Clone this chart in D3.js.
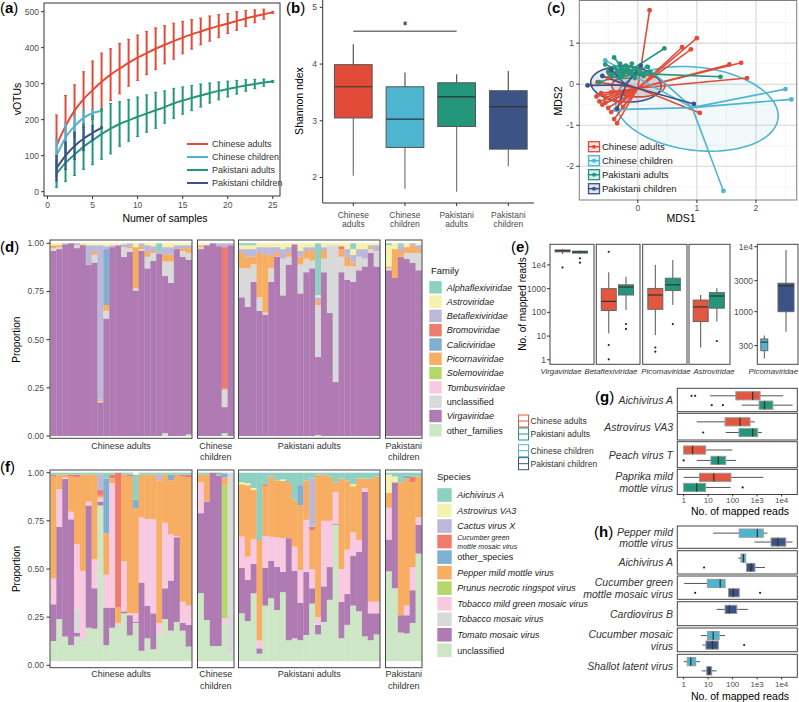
<!DOCTYPE html>
<html><head><meta charset="utf-8">
<script src="https://cdn.jsdelivr.net/npm/d3@7"></script>
<style>body{margin:0;background:#fff}svg{font-family:"Liberation Sans",Arial,Helvetica,sans-serif}</style>
</head><body>
<svg id="fig" width="799" height="702"></svg>
<script>
// ================= DATA =================
const groups = ["Chinese adults","Chinese children","Pakistani adults","Pakistani children"];
const groupColors = ["#E24B37","#4EB5D0","#23967B","#3B5385"];

// (a) rarefaction: mean and sd of vOTUs per number of samples
const aMeanCA = [128,182,225,257,282,305,325,342,358,372,385,397,408,418,428,437,445,453,460,467,474,481,487,493,498];
const aSdCA   = [85,85,72,76,81,80,72,70,65,63,60,58,53,50,45,41,37,35,32,28,26,22,18,14,3];
const aMeanCC = [100,150,182,205,218,225];
const aSdCC   = [45,40,30,20,10,2];
const aMeanPA = [50,80,103,125,143,160,175,188,198,208,217,226,235,245,253,260,267,274,280,285,290,295,299,303,306];
const aSdPA   = [38,52,58,63,68,70,70,62,58,55,52,50,45,42,38,35,32,28,25,22,19,16,13,10,3];
const aMeanPC = [65,100,127,147,163,178];
const aSdPC   = [35,38,38,32,20,2];
const aXTicks = [0,5,10,15,20,25];
const aYTicks = [0,100,200,300,400,500];

// (b) Shannon index boxplots
const bQ1  = [3.05,2.53,2.90,2.50];
const bMed = [3.60,3.03,3.42,3.25];
const bQ3  = [3.99,3.60,3.67,3.53];
const bLo  = [2.03,1.80,1.75,2.20];
const bHi  = [4.35,3.85,3.82,3.88];
const bYTicks = [2,3,4,5];
const bSig = {from:0, to:2, y:4.58, label:"*"};

// (c) MDS
const cPtsCA = [[0.2,1.8],[1.0,1.12],[0.75,0.9],[0.9,0.85],[1.75,0.52],[1.55,0.48],[1.85,0.15],[1.05,-0.7],
  [-0.7,-0.3],[-0.65,-0.42],[-0.6,-0.5],[-0.55,-0.45],[-0.5,-0.58],[-0.45,-0.68],[-0.4,-0.85],[-0.35,-0.95],
  [-0.55,-0.32],[-0.62,-0.22],[-0.4,-0.38],[-0.3,-0.45],[-0.25,-0.55],[-0.5,0.15],[-0.68,0.05],[-0.45,-0.2]];
const cPtsCC = [[-0.55,0.58],[2.5,-0.12],[2.6,-0.37],[1.45,-2.6],[-0.38,-0.62],[0.15,0.42]];
const cPtsPA = [[-0.4,0.65],[0.45,0.87],[1.4,0.18],[-0.3,0.5],[-0.2,0.45],[-0.1,0.5],[0.0,0.38],[0.17,0.42],
  [-0.5,0.3],[-0.65,0.05],[-0.35,0.3],[-0.25,0.22],[-0.15,0.32],[0.05,0.28],[-0.3,0.15],[-0.45,0.22],
  [0.1,0.2],[-0.2,0.35],[-0.4,0.4],[-0.55,0.48],[-0.1,0.25],[0.2,0.3],[-0.28,0.38],[-0.05,0.15]];
const cPtsPC = [[-0.85,-0.03],[0.95,-0.48],[-0.35,-0.6],[0.05,0.45],[-0.45,0.35],[-0.6,0.2]];
const cCentroids = [[0.0,-0.1],[0.92,-0.57],[-0.2,0.27],[-0.2,-0.02]];
// ellipse: cx, cy, semi-axis a, semi-axis b, rotation (deg)
const cEllipses = [[0.01,-0.04,0.45,0.27,0],[1.0,-0.6,1.4,1.0,-15],[-0.25,0.3,0.27,0.16,0],[-0.2,0.0,0.6,0.43,-8]];
const cXTicks = [0,1,2];
const cYTicks = [-2,-1,0,1];

// (d) family composition; each bar = list of [family code, cumulative top], bottom to top
const families = ["Alphaflexiviridae","Astroviridae","Betaflexiviridae","Bromoviridae","Caliciviridae","Picornaviridae","Solemoviridae","Tombusviridae","unclassified","Virgaviridae","other_families"];
const familyCodes = ["Al","As","Be","B","C","P","S","T","U","V","O"];
const paletteSet = ["#8ED1C2","#F5F1AE","#BDB8D9","#EF7B6C","#7FAFD1","#F7AE63","#B5D76B","#F8C9E0","#D9D9D9","#B07BB3","#CCE6C6"];
const dCA = [
 [["V",.96],["U",.975],["P",.99],["As",1]],[["V",.97],["U",.98],["P",.99],["As",1]],[["V",.995],["Be",1]],[["V",1]],
 [["V",.975],["U",.99],["Be",1]],[["V",.99],["P",.995],["As",1]],[["V",.89],["Be",.99],["As",1]],
 [["V",.90],["U",.94],["P",.955],["Be",.99],["As",1]],[["V",.175],["U",.18],["P",.19],["Be",.99],["As",1]],
 [["V",.61],["U",.65],["P",.68],["C",.97],["Be",.985],["As",1]],[["V",.98],["Be",.99],["As",1]],[["V",.99],["As",1]],
 [["V",.93],["U",.98],["Be",.995],["As",1]],[["V",.955],["U",.975],["P",.985],["Be",1]],[["V",.755],["U",.765],["P",.98],["As",1]],
 [["V",.96],["U",.97],["P",.985],["Be",1]],[["V",.87],["U",.93],["P",.955],["Be",.99],["As",1]],
 [["V",.91],["U",.95],["P",.96],["Be",.985],["As",1]],[["V",.945],["Be",.955],["Al",1]],
 [["O",.015],["V",.83],["U",.905],["P",.94],["Be",.98],["As",1]],[["V",.795],["U",.905],["P",.94],["Be",.98],["As",1]],
 [["V",.97],["Be",.99],["As",1]],[["V",.93],["U",.96],["P",.975],["Be",.99],["As",1]],[["O",.008],["V",.915],["U",.95],["P",.975],["Be",.99],["As",1]]
];
const dCC = [
 [["V",.97],["U",.98],["P",.99],["As",1]],[["V",.99],["As",1]],[["V",1]],[["V",.985],["Be",1]],
 [["O",.015],["V",.15],["U",.24],["P",.245],["B",.98],["Be",1]],[["V",.99],["Be",1]]
];
const dPA = [
 [["V",.72],["U",.87],["P",.95],["Be",.97],["As",.99],["Al",1]],[["V",.67],["U",.87],["P",.93],["Be",.97],["As",.99],["Al",1]],
 [["V",.80],["U",.89],["P",.93],["Be",.97],["As",.99],["Al",1]],[["V",.65],["U",.72],["P",.95],["Be",.98],["As",1]],
 [["V",.63],["U",.64],["P",.94],["Be",.98],["As",1]],[["V",.80],["U",.87],["P",.94],["Be",.98],["As",1]],
 [["V",.93],["P",.95],["Be",.98],["As",1]],[["V",.73],["U",.92],["Be",.97],["As",1]],
 [["V",.89],["U",.93],["P",.95],["Be",.98],["As",1]],[["V",.995],["As",1]],
 [["V",.74],["U",.89],["P",.93],["Be",.96],["As",1]],[["V",.85],["U",.92],["P",.96],["Be",.98],["As",1]],
 [["V",.87],["U",.91],["P",.96],["Be",.98],["As",1]],[["O",.005],["V",.41],["U",.68],["P",.70],["Be",.72],["As",.73],["Al",1]],
 [["V",.85],["U",.92],["P",.96],["Be",.98],["As",1]],[["V",.64],["U",.99],["As",1]],[["V",.28],["U",.99],["As",1]],
 [["V",.85],["U",.93],["P",.97],["B",.985],["As",1]],[["V",.81],["U",.88],["P",.93],["Be",.97],["As",1]],
 [["V",.80],["U",.88],["P",.90],["Be",.94],["As",.97],["Al",1]],[["V",.86],["U",.93],["Be",.97],["As",1]],
 [["V",.88],["U",.92],["Be",.97],["As",1]],[["V",.95],["U",.97],["P",.98],["Be",.99],["As",1]],[["V",.88],["U",.96],["Be",.99],["As",1]]
];
const dPC = [
 [["V",.86],["U",.87],["P",.88],["As",.99],["Al",1]],[["V",.82],["P",.97],["As",1]],[["V",.93],["P",.96],["Be",.99],["Al",1]],
 [["V",.92],["U",.95],["P",.98],["As",1]],[["V",.90],["U",.95],["P",.99],["Be",1]],[["V",.86],["U",.95],["P",.97],["Be",.99],["As",1]]
];
const propTicks = [0,0.25,0.5,0.75,1];

// (f) species composition (bars start at fBase)
const species = ["Aichivirus A","Astrovirus VA3","Cactus virus X","Cucumber green mottle mosaic virus","other_species","Pepper mild mottle virus","Prunus necrotic ringspot virus","Tobacco mild green mosaic virus","Tobacco mosaic virus","Tomato mosaic virus","unclassified"];
const speciesCodes = ["Ai","Av","Cx","Cg","Ot","Pe","Pr","TMG","TbM","ToM","Un"];
const fBase = 0.022;
const fCA = [
 [["Un",.126],["ToM",.317],["TMG",.45],["Pe",.98],["Cg",.99],["Ai",1]],[["Un",.24],["ToM",.72],["TMG",.915],["Pe",.99],["Ai",1]],
 [["Un",.149],["ToM",.967],["TMG",.975],["Pe",.99],["Ai",1]],[["Un",.105],["ToM",.758],["TMG",.797],["Pe",.98],["Cg",.99],["Ai",1]],
 [["Un",.15],["ToM",.17],["TbM",.29],["TMG",.63],["Pe",.975],["Cg",.99],["Ai",1]],[["Un",.12],["TbM",.14],["TMG",.49],["Pe",.99],["Ai",1]],
 [["Un",.195],["ToM",.83],["TMG",.85],["Pe",.99],["Ai",1]],[["Un",.19],["ToM",.40],["TMG",.55],["Pe",.99],["Ai",1]],
 [["Un",.83],["ToM",.85],["TMG",.87],["Pe",.88],["Cg",.91],["Cx",.99],["Ai",1]],[["Un",.105],["ToM",.30],["TMG",.47],["Pe",.685],["Ot",.97],["Ai",1]],
 [["Un",.195],["ToM",.30],["TMG",.945],["Pe",.97],["Cg",.99],["Ai",1]],[["Un",.21],["TMG",.22],["Pe",.30],["Cg",1]],
 [["Un",.27],["ToM",.28],["TMG",.54],["Pe",.99],["Ai",1]],[["Un",.155],["ToM",.26],["TMG",.27],["Pe",.98],["Cg",.99],["Ai",1]],
 [["Un",.22],["ToM",.227],["TMG",.27],["Pe",.815],["Ot",.86],["Ai",.99]],[["Un",.075],["ToM",.43],["TMG",.767],["Pe",.99],["Ai",1]],
 [["Un",.14],["ToM",.31],["TMG",.76],["Pe",.99],["Ai",1]],[["Un",.083],["ToM",.27],["TMG",.758],["Pe",.99],["Ai",1]],
 [["Un",.17],["TMG",.22],["Pe",.96],["Cx",.99],["Ai",1]],[["Un",.24],["ToM",.40],["TbM",.41],["TMG",.74],["Pe",.99],["Ai",1]],
 [["Un",.18],["ToM",.44],["TMG",.68],["Pe",.96],["Ot",.99],["Ai",1]],[["Un",.225],["ToM",.665],["TMG",.67],["Pe",.99],["Ai",1]],
 [["Un",.18],["ToM",.22],["TMG",.33],["Pe",.98],["Cg",.99],["Ai",1]],[["Un",.097],["ToM",.21],["TMG",.31],["Pe",.975],["Cg",.99],["Ai",1]]
];
const fCC = [
 [["Un",.375],["ToM",.79],["TMG",.95],["Pe",.99],["Ai",1]],[["Un",.235],["ToM",.85],["Pe",.99],["Ai",1]],[["Un",.10],["ToM",1]],
 [["Un",.10],["ToM",.985],["Pe",.99],["Ot",1]],[["Un",.22],["TMG",.245],["Pr",.935],["Pe",.975],["Ot",.995],["Ai",1]],[["Un",.057],["TbM",1]]
];
const fPA = [
 [["Un",.27],["ToM",.507],["TMG",.668],["Pe",.94],["Av",.95],["Ai",1]],[["Un",.23],["ToM",.443],["TMG",.564],["Pe",.935],["Av",.945],["Ai",1]],
 [["Un",.374],["ToM",.526],["TMG",.654],["Pe",.91],["Av",.92],["Ai",1]],[["Un",.06],["ToM",.088],["TMG",.128],["Pe",.65],["Ot",.655],["Ai",1]],
 [["Un",.31],["ToM",.507],["TMG",.67],["Pe",.93],["Cg",.94],["Ai",1]],[["Un",.348],["ToM",.543],["TMG",.668],["Pe",.98],["Ai",1]],
 [["Un",.287],["ToM",.512],["TMG",.664],["Pe",.96],["Ai",1]],[["Un",.38],["ToM",.486],["TMG",.66],["Pe",.957],["Av",.965],["Ai",1]],
 [["Un",.13],["ToM",.66],["Pe",.945],["Cg",.95],["Ai",1]],[["Un",.14],["ToM",.49],["TMG",.616],["Pe",.86],["Ai",1]],
 [["Un",.13],["ToM",.325],["TMG",.495],["Pe",.83],["Ot",.935],["Ai",1]],[["Un",.157],["ToM",.486],["TMG",.755],["Pe",.96],["Ai",1]],
 [["Un",.32],["ToM",.40],["TMG",.50],["Pe",.70],["Cg",.72],["Cx",.97],["Ai",1]],[["Un",.16],["ToM",.21],["TMG",.25],["Pe",.99],["Ai",1]],
 [["Un",.225],["ToM",.41],["TMG",.75],["Pe",.99],["Ai",1]],[["Un",.34],["ToM",.51],["TMG",.75],["Pe",.98],["Ai",1]],
 [["Un",.73],["ToM",.735],["TMG",.90],["Pe",.95],["Ai",1]],[["Un",.14],["ToM",.33],["TMG",.50],["Pe",.97],["Ai",1]],
 [["Un",.21],["ToM",.37],["TMG",.60],["Pe",.96],["Ai",1]],[["Un",.31],["ToM",.57],["TMG",.69],["Pe",.93],["Av",.94],["Ai",1]],
 [["Un",.28],["ToM",.59],["TMG",.65],["Pe",.97],["Ai",1]],[["Un",.15],["ToM",.90],["TMG",.92],["Pe",.97],["Ai",1]],
 [["Un",.13],["ToM",.27],["TMG",.33],["Pe",.97],["Ai",1]],[["Un",.16],["ToM",.27],["TMG",.33],["Pe",.98],["Ai",1]]
];
const fPC = [
 [["Un",.488],["ToM",.653],["TMG",.818],["Pe",.896],["Av",.99],["Ai",1]],[["Un",.40],["ToM",.95],["Av",.98],["Ai",1]],
 [["Un",.17],["ToM",.26],["Pe",.95],["Ai",1]],[["Un",.165],["ToM",.26],["TMG",.31],["Pe",.97],["Ot",.985],["Ai",1]],
 [["Un",.22],["ToM",.39],["TMG",.51],["Pe",.95],["Cg",.98],["Ai",1]],[["Un",.58],["ToM",.73],["TMG",.77],["Pe",.98],["Ai",1]]
];
const facetNames = [["Chinese adults"],["Chinese","children"],["Pakistani adults"],["Pakistani","children"]];

// (e) mapped reads by family: [q1, median, q3, lower whisker, upper whisker, outliers]
const eFamilies = ["Virgaviridae","Betaflexiviridae","Picornaviridae","Astroviridae"];
const eAdultsCA = [[35500,40000,42700,28500,45700,[7800]],[120,290,1000,13,4900,[4.2,1.05,36000]],[135,540,1020,11,10000,[3.3,2.2]],[41,170,330,3.3,540,[]]];
const eAdultsPA = [[31600,35500,38000,30000,40000,[19000,12500]],[540,1170,1450,126,3200,[32,20]],[830,1450,2750,205,16000,[32]],[150,490,680,41,1050,[6.2]]];
const eChildFamily = "Picornaviridae";
const eChildCC = [251,340,380,190,430,[]];
const eChildPC = [1000,2490,2740,490,8900,[]];
const eTicks = [1,10,100,1000,10000];
const eTickLabels = ["1","10","100","1000","1e4"];
const eChildTicks = [300,1000,3000,10000];
const eChildTickLabels = ["300","1000","3000","1e4"];
const legendOrder = ["Chinese adults","Pakistani adults","Chinese children","Pakistani children"];

// (g) adults viruses
const gViruses = [["Aichivirus A"],["Astrovirus VA3"],["Peach virus T"],["Paprika mild","mottle virus"]];
const gCA = [[135,660,1320,12,11700,[2.1,2.95]],[49,200,510,3.4,810,[]],[1,2.3,7.9,1,98,[]],[4.4,17,85,1,1780,[]]];
const gPA = [[1200,2000,4400,234,28000,[14,40]],[182,660,1050,52,1550,[6.3]],[13,26,52,3.4,138,[1]],[1,3.4,7.9,1,83,[257]]];
// (h) children viruses
const hViruses = [["Pepper mild","mottle virus"],["Aichivirus A"],["Cucumber green","mottle mosaic virus"],["Cardiovirus B"],["Cucumber mosaic","virus"],["Shallot latent virus"]];
const hCC = [[186,1020,1780,16,2630,[]],[219,275,340,170,340,[]],[9.3,31,49,1.05,49,[]],null,[9.3,16,28,5,49,[]],[1.4,1.95,3.1,1,4.7,[]]];
const hPC = [[3700,6900,14800,776,28000,[]],[370,560,810,370,2090,[6.8]],[68,107,186,68,186,[2.95,1320]],[49,74,148,22,417,[]],[8.1,15,26,5.8,26,[295]],[8.7,11,14,5.5,22,[]]];
const readTicks = [1,10,100,1000,10000];
const readTickLabels = ["1","10","100","1e3","1e4"];

// ================= DRAW =================
const svg = d3.select("#fig");
const TICKC = "#4d4d4d", AXC = "#333";
function txt(x,y,s,o={}){
  const t = svg.append("text").attr("x",x).attr("y",y).text(s)
   .attr("font-size",o.size||9).attr("fill",o.fill||"#000")
   .attr("text-anchor",o.anchor||"start");
  if(o.italic) t.attr("font-style","italic");
  if(o.rotate!==undefined) t.attr("transform",`rotate(${o.rotate},${x},${y})`);
  return t;
}
function panelLabel(x,y,l){
  const t = svg.append("text").attr("x",x).attr("y",y).attr("font-size",15);
  t.append("tspan").text("(");
  t.append("tspan").attr("font-weight","bold").text(l);
  t.append("tspan").text(")");
}
function line(x1,y1,x2,y2,c,w){ return svg.append("line").attr("x1",x1).attr("y1",y1).attr("x2",x2).attr("y2",y2).attr("stroke",c).attr("stroke-width",w||1); }

// ---------- (a) ----------
(function(){
  const x = d3.scaleLinear().domain([-0.39,25.8]).range([44,280]);
  const y = d3.scaleLinear().domain([-12,524]).range([196,3]);
  svg.append("rect").attr("x",44).attr("y",3).attr("width",236).attr("height",193).attr("fill","none").attr("stroke",AXC);
  aXTicks.forEach(t=>{ line(x(t),196,x(t),199,AXC); txt(x(t),208,t,{anchor:"middle",size:8.5,fill:TICKC}); });
  aYTicks.forEach(t=>{ line(41,y(t),44,y(t),AXC); txt(39,y(t)+3,t,{anchor:"end",size:8.5,fill:TICKC}); });
  txt(165,222,"Numer of samples",{anchor:"middle",size:10.5});
  txt(21,99,"vOTUs",{anchor:"middle",size:10.5,rotate:-90});
  const series = [[aMeanCA,aSdCA,0],[aMeanCC,aSdCC,1],[aMeanPA,aSdPA,2],[aMeanPC,aSdPC,3]];
  series.forEach(([m,s,g])=>{
    const col = groupColors[g];
    m.forEach((v,i)=>{
      const xi = x(i+1);
      line(xi,y(v-s[i]),xi,y(v+s[i]),col,2);
      line(xi-1.5,y(v-s[i]),xi+1.5,y(v-s[i]),col,1);
      line(xi-1.5,y(v+s[i]),xi+1.5,y(v+s[i]),col,1);
    });
    svg.append("path").datum(m).attr("fill","none").attr("stroke",col).attr("stroke-width",2)
      .attr("d",d3.line().x((d,i)=>x(i+1)).y(d=>y(d)).curve(d3.curveMonotoneX));
  });
  groups.forEach((g,i)=>{
    const yy = 144 + i*13;
    line(187,yy,208,yy,groupColors[i],2);
    txt(212,yy+3.2,g,{size:9,fill:"#333"});
  });
  panelLabel(0,13,"a");
})();

// ---------- (b) ----------
(function(){
  const x = d3.scalePoint().domain(groups).range([353.3,508.3]);
  const y = d3.scaleLinear().domain([1.55,5.13]).range([203,0]);
  line(322.7,0,322.7,203,AXC); line(322.7,203,534,203,AXC);
  bYTicks.forEach(t=>{ line(319.7,y(t),322.7,y(t),AXC); txt(317,y(t)+3,t,{anchor:"end",size:8.5,fill:TICKC}); });
  const bw = 37.7;
  groups.forEach((g,i)=>{
    const cx = x(g);
    line(cx,203,cx,206,AXC);
    const parts = g.split(" ");
    txt(cx,217.5,parts[0],{anchor:"middle",size:8.5,fill:TICKC});
    txt(cx,226.5,parts[1],{anchor:"middle",size:8.5,fill:TICKC});
    line(cx,y(bLo[i]),cx,y(bQ1[i]),"#777",1.2);
    line(cx,y(bQ3[i]),cx,y(bHi[i]),"#555",1.2);
    svg.append("rect").attr("x",cx-bw/2).attr("y",y(bQ3[i])).attr("width",bw).attr("height",y(bQ1[i])-y(bQ3[i]))
      .attr("fill",groupColors[i]).attr("stroke","#555").attr("stroke-width",1);
    line(cx-bw/2,y(bMed[i]),cx+bw/2,y(bMed[i]),"#333",1.2);
  });
  line(x(groups[bSig.from]),y(bSig.y),x(groups[bSig.to]),y(bSig.y),"#333",1);
  txt((x(groups[bSig.from])+x(groups[bSig.to]))/2,y(bSig.y)-1,bSig.label,{anchor:"middle",size:12});
  txt(303,101,"Shannon ndex",{anchor:"middle",size:10.5,rotate:-90});
  panelLabel(286,13,"b");
})();

// ---------- (c) ----------
(function(){
  const x = d3.scaleLinear().domain([-0.99,2.69]).range([579.3,796.7]);
  const y = d3.scaleLinear().domain([-2.82,2.05]).range([200,0]);
  const g = svg.append("g");
  [-0.5,0.5,1.5,2.5].forEach(t=>g.append("line").attr("x1",x(t)).attr("x2",x(t)).attr("y1",0).attr("y2",200).attr("stroke","#eeeeee").attr("stroke-width",0.6));
  [-2.5,-1.5,-0.5,0.5,1.5].forEach(t=>g.append("line").attr("y1",y(t)).attr("y2",y(t)).attr("x1",579.3).attr("x2",796.7).attr("stroke","#eeeeee").attr("stroke-width",0.6));
  cXTicks.forEach(t=>g.append("line").attr("x1",x(t)).attr("x2",x(t)).attr("y1",0).attr("y2",200).attr("stroke","#d6d6d6").attr("stroke-width",1.1));
  cYTicks.forEach(t=>g.append("line").attr("y1",y(t)).attr("y2",y(t)).attr("x1",579.3).attr("x2",796.7).attr("stroke","#d6d6d6").attr("stroke-width",1.1));
  const pts = [cPtsCA,cPtsCC,cPtsPA,cPtsPC];
  const order = [1,0,3,2];
  order.forEach(i=>{
    const [cx,cy,a,b,rot] = cEllipses[i];
    const th = rot*Math.PI/180;
    const ps = d3.range(0,361,4).map(d=>{
      const t = d*Math.PI/180;
      const ex = a*Math.cos(t), ey = b*Math.sin(t);
      return [cx+ex*Math.cos(th)-ey*Math.sin(th), cy+ex*Math.sin(th)+ey*Math.cos(th)];
    });
    svg.append("path").datum(ps).attr("d",d3.line().x(d=>x(d[0])).y(d=>y(d[1])))
      .attr("fill",groupColors[i]).attr("fill-opacity",i===1?0.08:0.12).attr("stroke",groupColors[i]).attr("stroke-width",1.6);
  });
  [0,1,2,3].forEach(i=>{
    const c = cCentroids[i];
    pts[i].forEach(p=>line(x(c[0]),y(c[1]),x(p[0]),y(p[1]),groupColors[i],1.6));
  });
  [0,1,2,3].forEach(i=>{
    svg.selectAll(null).data(pts[i]).enter().append("circle")
      .attr("cx",d=>x(d[0])).attr("cy",d=>y(d[1])).attr("r",2.4).attr("fill",groupColors[i]);
  });
  svg.append("rect").attr("x",579.3).attr("y",0.5).attr("width",217.4).attr("height",199.5).attr("fill","none").attr("stroke","#7f7f7f");
  cXTicks.forEach(t=>{ line(x(t),200,x(t),203,AXC); txt(x(t),211,t,{anchor:"middle",size:8.5,fill:TICKC}); });
  cYTicks.forEach(t=>{ line(576.3,y(t),579.3,y(t),AXC); txt(574,y(t)+3,t,{anchor:"end",size:8.5,fill:TICKC}); });
  txt(681,222,"MDS1",{anchor:"middle",size:10.5});
  txt(562,101,"MDS2",{anchor:"middle",size:10.5,rotate:-90});
  groups.forEach((gname,i)=>{
    const yy = 146.7 + i*14;
    svg.append("rect").attr("x",588.5).attr("y",yy-5).attr("width",11).attr("height",10).attr("fill",groupColors[i]).attr("fill-opacity",0.15).attr("stroke",groupColors[i]).attr("stroke-width",1.3);
    line(588.5,yy,599.5,yy,groupColors[i],1.5);
    svg.append("circle").attr("cx",594).attr("cy",yy).attr("r",2).attr("fill",groupColors[i]);
    txt(602,yy+3.3,gname,{size:9.5,fill:"#222"});
  });
  panelLabel(547,13,"c");
})();

// ---------- (d) & (f) stacked bars ----------
const facetX = [[50,192],[197.5,234],[238.5,380],[385.5,422]];
function stackPanel(datasets, codes, colors, yTop, yBot, frameTop, frameBot, base, labelY){
  const y = d3.scaleLinear().domain([0,1]).range([yBot,yTop]);
  const colorOf = d3.scaleOrdinal().domain(codes).range(colors);
  datasets.forEach((bars,fi)=>{
    const [x0,x1] = facetX[fi];
    const xb = d3.scaleBand().domain(d3.range(bars.length)).range([x0,x1]).paddingOuter(0.08).paddingInner(0);
    bars.forEach((segs,bi)=>{
      let prev = base;
      segs.forEach(([code,top])=>{
        svg.append("rect").attr("x",xb(bi)).attr("width",xb.bandwidth()+0.3)
          .attr("y",y(top)).attr("height",Math.max(0,y(prev)-y(top))).attr("fill",colorOf(code));
        prev = top;
      });
    });
    svg.append("rect").attr("x",x0).attr("y",frameTop).attr("width",x1-x0).attr("height",frameBot-frameTop)
      .attr("fill","none").attr("stroke","#444").attr("stroke-width",1);
    const nm = facetNames[fi];
    nm.forEach((s,k)=>txt((x0+x1)/2,labelY+k*11.5,s,{anchor:"middle",size:9,fill:"#333"}));
  });
  propTicks.forEach(t=>{ line(46.5,y(t),50,y(t),AXC); txt(44,y(t)+3,d3.format(".2f")(t),{anchor:"end",size:8.5,fill:TICKC}); });
  txt(20,(yTop+yBot)/2,"Proportion",{anchor:"middle",size:10,rotate:-90});
}
stackPanel([dCA,dCC,dPA,dPC], familyCodes, paletteSet, 243.3, 436, 240, 438.3, 0, 448.5);
stackPanel([fCA,fCC,fPA,fPC], speciesCodes, paletteSet, 472.7, 665.3, 470, 667.7, fBase, 677);
panelLabel(0,252,"d");
panelLabel(0,472,"f");

// family legend
txt(431,273.5,"Family",{size:9.5,fill:"#222"});
families.forEach((f,i)=>{
  const yy = 287.3 + i*14.3;
  svg.append("rect").attr("x",429.3).attr("y",yy-6.2).attr("width",12.4).attr("height",12.4).attr("fill",paletteSet[i]);
  txt(446.7,yy+3.2,f,{size:9,fill:"#222",italic:!(f==="unclassified"||f==="other_families")});
});
// species legend
txt(437,480,"Species",{size:9.5,fill:"#222"});
species.forEach((s,i)=>{
  const yy = 495 + i*15.53;
  svg.append("rect").attr("x",437.3).attr("y",yy-6.8).attr("width",14.4).attr("height",13.6).attr("fill",paletteSet[i]);
  const it = !(s==="unclassified"||s==="other_species");
  if(s==="Cucumber green mottle mosaic virus"){
    txt(457.3,yy-1.5,"Cucumber green",{size:7,fill:"#222",italic:true});
    txt(457.3,yy+7,"mottle mosaic virus",{size:7,fill:"#222",italic:true});
  } else txt(457.3,yy+3.2,s,{size:9,fill:"#222",italic:it});
});

// ---------- box helpers ----------
function vBox(cx, w, st, y, fill, stroke){
  const [q1,md,q3,lo,hi,out] = st;
  line(cx,y(lo),cx,y(q1),"#555",1); line(cx,y(q3),cx,y(hi),"#555",1);
  svg.append("rect").attr("x",cx-w/2).attr("y",y(q3)).attr("width",w).attr("height",Math.max(1,y(q1)-y(q3)))
     .attr("fill",fill).attr("stroke",stroke).attr("stroke-width",1);
  line(cx-w/2,y(md),cx+w/2,y(md),"#333",1.2);
  out.forEach(o=>svg.append("circle").attr("cx",cx).attr("cy",y(o)).attr("r",1.1).attr("fill","#222"));
}
function hBox(cy, h, st, x, fill, stroke){
  const [q1,md,q3,lo,hi,out] = st;
  line(x(lo),cy,x(q1),cy,"#555",1); line(x(q3),cy,x(hi),cy,"#555",1);
  svg.append("rect").attr("y",cy-h/2).attr("x",x(q1)).attr("height",h).attr("width",Math.max(1,x(q3)-x(q1)))
     .attr("fill",fill).attr("stroke",stroke).attr("stroke-width",1);
  line(x(md),cy-h/2,x(md),cy+h/2,"#333",1.2);
  out.forEach(o=>svg.append("circle").attr("cx",x(o)).attr("cy",cy).attr("r",1.1).attr("fill","#222"));
}
const eRed = "#E2573F", eGreen = "#23967B";
const legendColors = {"Chinese adults":eRed,"Pakistani adults":eGreen,"Chinese children":groupColors[1],"Pakistani children":groupColors[3]};

// ---------- (e) ----------
(function(){
  const yE = d3.scaleLog().domain([Math.pow(10,-0.19),Math.pow(10,4.87)]).range([364.3,244.3]);
  const eFacets = [[550,594],[596.3,640],[642.7,687],[689,730]];
  const eLabX = [561,611,666,714];
  eFacets.forEach(([x0,x1],i)=>{
    const w = x1-x0;
    vBox(x0+0.285*w, 15, eAdultsCA[i], yE, eRed, "#666");
    vBox(x0+0.68*w, 15, eAdultsPA[i], yE, eGreen, "#666");
    svg.append("rect").attr("x",x0).attr("y",244.3).attr("width",w).attr("height",120).attr("fill","none").attr("stroke","#444");
    txt(eLabX[i],374,eFamilies[i],{anchor:"middle",size:7.8,italic:true,fill:"#333"});
  });
  eTicks.forEach((t,i)=>{ line(547,yE(t),550,yE(t),AXC); txt(546,yE(t)+3,eTickLabels[i],{anchor:"end",size:8.5,fill:TICKC}); });
  txt(526,304,"No. of mapped reads",{anchor:"middle",size:10,rotate:-90});
  const yC = d3.scaleLog().domain([Math.pow(10,2.19),Math.pow(10,4.037)]).range([364.3,244.3]);
  const x0=757.3, x1=798;
  vBox(764.3, 7, eChildCC, yC, groupColors[1], "#666");
  vBox(786, 16, eChildPC, yC, groupColors[3], "#666");
  svg.append("rect").attr("x",x0).attr("y",244.3).attr("width",x1-x0).attr("height",120).attr("fill","none").attr("stroke","#444");
  eChildTicks.forEach((t,i)=>{ line(754.3,yC(t),757.3,yC(t),AXC); txt(753,yC(t)+3,eChildTickLabels[i],{anchor:"end",size:8.5,fill:TICKC}); });
  txt(798,374,eChildFamily,{anchor:"end",size:7.8,italic:true,fill:"#333"});
  panelLabel(511,252,"e");
})();

// legend between e and g/h
legendOrder.forEach((g,i)=>{
  const yy = [421,434,450.7,463.7][i];
  const col = legendColors[g];
  svg.append("rect").attr("x",518.5).attr("y",yy-6).attr("width",10).attr("height",12).attr("fill","#fff").attr("stroke",col).attr("stroke-width",1);
  line(518.5,yy,528.5,yy,col,1);
  txt(530.5,yy+3.2,g,{size:8.5,fill:"#333"});
});

// ---------- (g) & (h) ----------
const xR = d3.scaleLog().domain([Math.pow(10,-0.26),Math.pow(10,4.64)]).range([677.3,797.3]);
function hPanel(rows, labels, A, B, colA, colB, bottomY, tickY, labelY){
  rows.forEach(([y0,y1],i)=>{
    const h = y1-y0;
    if(A[i]) hBox(y0+0.32*h, 8.2, A[i], xR, colA, "#999");
    if(B[i]) hBox(A[i]? y0+0.72*h : y0+0.32*h, 8.2, B[i], xR, colB, "#999");
    svg.append("rect").attr("x",677.3).attr("y",y0).attr("width",120).attr("height",h).attr("fill","none").attr("stroke","#444");
    const L = labels[i];
    if(L.length===1) txt(673,(y0+y1)/2+4,L[0],{anchor:"end",size:10.5,italic:true,fill:"#333"});
    else { txt(673,(y0+y1)/2-1.5,L[0],{anchor:"end",size:10.5,italic:true,fill:"#333"}); txt(673,(y0+y1)/2+10,L[1],{anchor:"end",size:10.5,italic:true,fill:"#333"}); }
  });
  readTicks.forEach((t,i)=>{ line(xR(t),bottomY,xR(t),bottomY+2,AXC); txt(xR(t),tickY,readTickLabels[i],{anchor:"middle",size:8,fill:TICKC}); });
  txt(740,labelY,"No. of mapped reads",{anchor:"middle",size:10.5});
}
hPanel([[388.3,411.7],[413.3,440],[441.7,467.7],[469.3,494.5]], gViruses, gCA, gPA, eRed, eGreen, 494.5, 503, 514.5);
hPanel([[526,548.3],[550.7,574],[576,599.3],[601.7,625.7],[628,651.7],[654.3,677.3]], hViruses, hCC, hPC, groupColors[1], groupColors[3], 677.3, 687, 700);
panelLabel(595,402,"g");
panelLabel(594,537,"h");
</script>
</body></html>
